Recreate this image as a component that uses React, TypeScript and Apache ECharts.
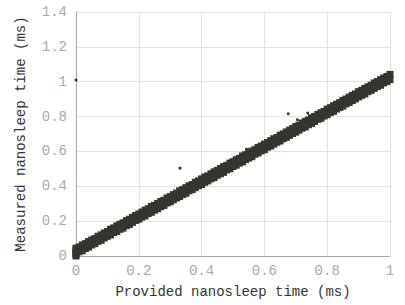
import React, { useEffect, useRef } from "react";
import * as echarts from "echarts";

const xs = [0,0.01,0.02,0.03,0.04,0.05,0.06,0.07,0.08,0.09,0.1,0.11,0.12,0.13,0.14,0.15,0.16,0.17,0.18,0.19,0.2,0.21,0.22,0.23,0.24,0.25,0.26,0.27,0.28,0.29,0.3,0.31,0.32,0.33,0.34,0.35,0.36,0.37,0.38,0.39,0.4,0.41,0.42,0.43,0.44,0.45,0.46,0.47,0.48,0.49,0.5,0.51,0.52,0.53,0.54,0.55,0.56,0.57,0.58,0.59,0.6,0.61,0.62,0.63,0.64,0.65,0.66,0.67,0.68,0.69,0.7,0.71,0.72,0.73,0.74,0.75,0.76,0.77,0.78,0.79,0.8,0.81,0.82,0.83,0.84,0.85,0.86,0.87,0.88,0.89,0.9,0.91,0.92,0.93,0.94,0.95,0.96,0.97,0.98,0.99,1];

const lowerY = [0.010,0.024,0.030,0.043,0.051,0.063,0.071,0.084,0.090,0.103,0.113,0.121,0.134,0.141,0.153,0.160,0.174,0.181,0.193,0.204,0.211,0.223,0.230,0.244,0.251,0.263,0.271,0.283,0.290,0.304,0.311,0.322,0.333,0.341,0.353,0.360,0.374,0.381,0.392,0.403,0.410,0.423,0.431,0.443,0.450,0.463,0.472,0.480,0.494,0.500,0.513,0.521,0.533,0.540,0.553,0.562,0.570,0.584,0.591,0.603,0.610,0.624,0.631,0.642,0.653,0.660,0.673,0.681,0.692,0.703,0.711,0.722,0.733,0.740,0.753,0.761,0.772,0.784,0.790,0.803,0.811,0.823,0.830,0.843,0.852,0.860,0.873,0.881,0.892,0.901,0.913,0.922,0.930,0.943,0.951,0.962,0.972,0.980,0.993,1.001,1.012];

const upperY = [0.045,0.052,0.064,0.071,0.083,0.092,0.100,0.113,0.121,0.132,0.140,0.154,0.161,0.173,0.182,0.190,0.203,0.211,0.222,0.233,0.241,0.252,0.263,0.271,0.284,0.291,0.302,0.313,0.320,0.333,0.341,0.352,0.361,0.374,0.381,0.392,0.403,0.410,0.423,0.431,0.442,0.453,0.460,0.472,0.483,0.491,0.502,0.513,0.520,0.533,0.541,0.552,0.560,0.574,0.581,0.593,0.602,0.610,0.623,0.631,0.642,0.651,0.662,0.673,0.680,0.693,0.701,0.712,0.722,0.731,0.743,0.750,0.763,0.772,0.780,0.793,0.801,0.812,0.822,0.830,0.843,0.851,0.862,0.871,0.880,0.893,0.901,0.912,0.922,0.930,0.943,0.951,0.962,0.971,0.980,0.993,1.001,1.012,1.021,1.030,1.042];

const startCluster: [number, number][] = [[0, 0.0], [0, 0.018], [0, 0.032]];
const outliers: [number, number][] = [[0, 1.01], [0.331, 0.504], [0.543, 0.613], [0.676, 0.816], [0.705, 0.782], [0.738, 0.82]];

const xTicks = [0, 0.2, 0.4, 0.6, 0.8, 1];
const yTicks = [0, 0.2, 0.4, 0.6, 0.8, 1, 1.2, 1.4];

const FONT = "Liberation Mono";
const DOT = "#35352f";

export default function App() {
  const ref = useRef<HTMLDivElement>(null);
  useEffect(() => {
    if (!ref.current) return;
    const chart = echarts.init(ref.current, undefined, { renderer: "svg" });
    const band: [number, number][] = [];
    xs.forEach((x, i) => {
      band.push([x, lowerY[i]]);
      band.push([x, upperY[i]]);
    });
    chart.setOption({
      animation: false,
      backgroundColor: "#ffffff",
      grid: { left: 76, right: 15, top: 12, bottom: 49 },
      xAxis: {
        type: "value",
        min: xTicks[0],
        max: xTicks[xTicks.length - 1],
        interval: 0.2,
        name: "Provided nanosleep time (ms)",
        nameLocation: "middle",
        nameGap: 29,
        nameTextStyle: { fontFamily: FONT, fontSize: 14, color: "#333" },
        axisLine: { lineStyle: { color: "#a8a8a8", width: 1 } },
        axisTick: { show: false },
        axisLabel: { fontFamily: FONT, fontSize: 14, color: "#aaaaaa", margin: 8 },
        splitLine: { show: true, lineStyle: { color: "#e2e2e2", width: 1 } },
      },
      yAxis: {
        type: "value",
        min: yTicks[0],
        max: yTicks[yTicks.length - 1],
        interval: 0.2,
        name: "Measured nanosleep time (ms)",
        nameLocation: "middle",
        nameGap: 48,
        nameTextStyle: { fontFamily: FONT, fontSize: 14, color: "#333" },
        axisLine: { show: true, lineStyle: { color: "#a8a8a8", width: 1 } },
        axisTick: { show: false },
        axisLabel: { fontFamily: FONT, fontSize: 14, color: "#aaaaaa", margin: 9 },
        splitLine: { show: true, lineStyle: { color: "#e2e2e2", width: 1 } },
      },
      series: [
        {
          type: "scatter",
          data: band.concat(startCluster),
          symbol: "rect",
          symbolSize: 7,
          itemStyle: { color: DOT, opacity: 1 },
        },
        {
          type: "scatter",
          data: outliers,
          symbol: "circle",
          symbolSize: 3,
          itemStyle: { color: DOT, opacity: 1 },
        },
      ],
    });
    return () => chart.dispose();
  }, []);
  return (
    <div
      ref={ref}
      style={{ position: "fixed", left: 0, top: 0, width: 405, height: 305 }}
    />
  );
}
